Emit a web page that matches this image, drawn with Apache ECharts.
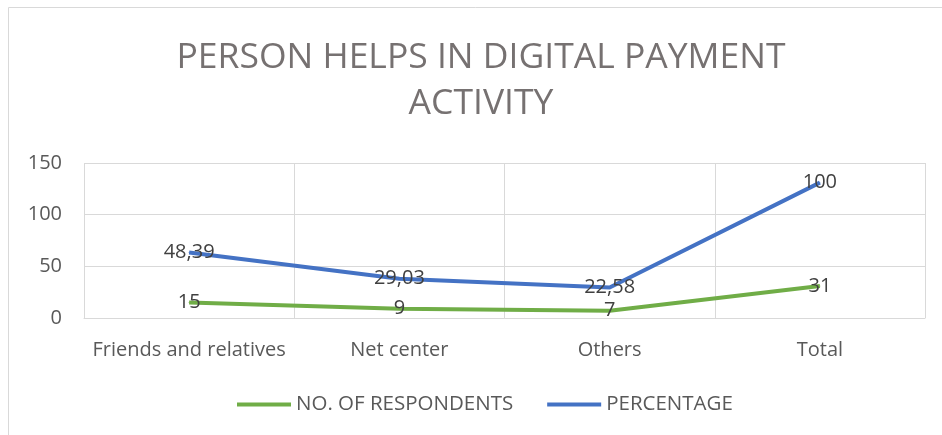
<!DOCTYPE html>
<html><head><meta charset="utf-8">
<script src="https://cdn.jsdelivr.net/npm/echarts@6/dist/echarts.min.js"></script>
<style>html,body{margin:0;padding:0;background:#fff}#c{width:942px;height:435px}</style>
</head><body><div id="c"></div>
<script>
var categories = ['Friends and relatives', 'Net center', 'Others', 'Total'];
var respondents = [15, 9, 7, 31];
var percentage = [48.39, 29.03, 22.58, 100];
var yTicks = [0, 50, 100, 150];
var titleText = 'PERSON HELPS IN DIGITAL PAYMENT\nACTIVITY';

var F = '"Open Sans", sans-serif';
var fmt = function (p) { return String(p.value).replace('.', ','); };
var chart = echarts.init(document.getElementById('c'));
chart.setOption({
  animation: false,
  graphic: [
    { type: 'rect', shape: { x: 8.5, y: 7.5, width: 960, height: 460 }, style: { fill: 'none', stroke: '#d9d9d9', lineWidth: 1 }, z: -1 },
    { type: 'text', x: 481, y: 35, style: { text: titleText, align: 'center', verticalAlign: 'top', font: '35.5px ' + F, fill: '#767171', lineHeight: 46 } }
  ],
  legend: {
    top: 389, left: 232, itemWidth: 54, itemHeight: 4, itemGap: 34,
    icon: 'rect',
    textStyle: { fontFamily: F, fontSize: 20.5, color: '#595959' },
    data: ['NO. OF RESPONDENTS', 'PERCENTAGE']
  },
  grid: { left: 84, right: 17, top: 163, bottom: 117 },
  xAxis: {
    type: 'category', data: categories, boundaryGap: true,
    axisLine: { lineStyle: { color: '#d9d9d9' } },
    axisTick: { show: false },
    splitLine: { show: true, interval: 0, lineStyle: { color: '#d9d9d9' } },
    axisLabel: { interval: 0, fontFamily: F, fontSize: 20, color: '#595959', margin: 22 }
  },
  yAxis: {
    type: 'value', min: yTicks[0], max: yTicks[yTicks.length - 1], interval: 50,
    axisLine: { show: false }, axisTick: { show: false },
    splitLine: { lineStyle: { color: '#d9d9d9' } },
    axisLabel: { fontFamily: F, fontSize: 20, color: '#595959', margin: 22 }
  },
  series: [
    { name: 'NO. OF RESPONDENTS', type: 'line', stack: 's', data: respondents,
      symbol: 'circle', symbolSize: 1, lineStyle: { width: 4, color: '#70AD47' },
      itemStyle: { color: '#70AD47' },
      label: { show: true, position: 'inside', formatter: fmt, fontFamily: F, fontSize: 20, color: '#404040' } },
    { name: 'PERCENTAGE', type: 'line', stack: 's', data: percentage,
      symbol: 'circle', symbolSize: 1, lineStyle: { width: 4, color: '#4472C4' },
      itemStyle: { color: '#4472C4' },
      label: { show: true, position: 'inside', formatter: fmt, fontFamily: F, fontSize: 20, color: '#404040' } }
  ]
});
</script></body></html>
